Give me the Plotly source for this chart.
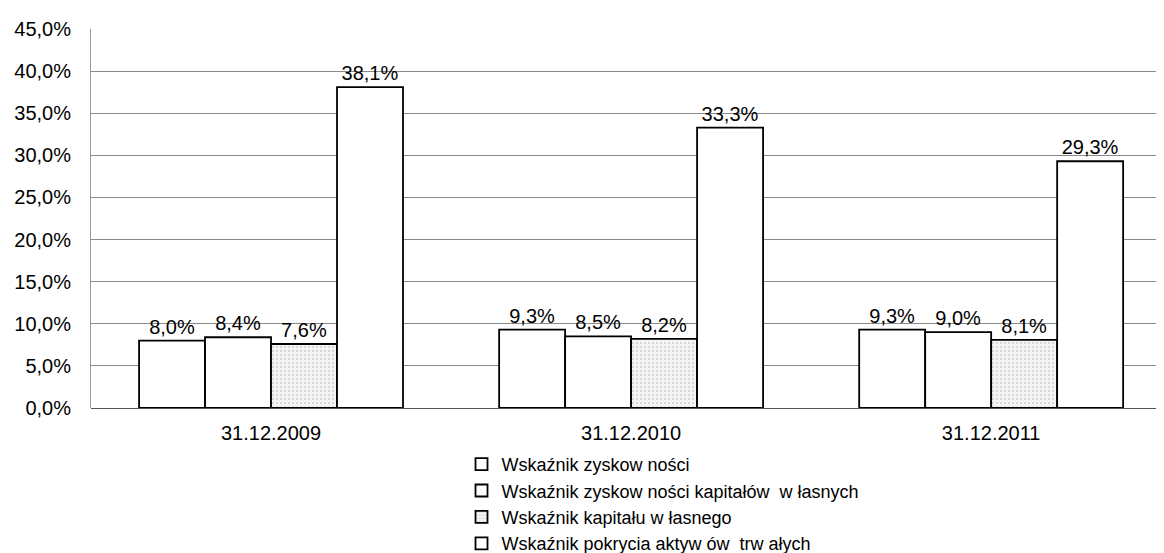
import plotly.graph_objects as go

categories = ["31.12.2009", "31.12.2010", "31.12.2011"]
series_names = [
    "Wskaźnik zyskow ności",
    "Wskaźnik zyskow ności kapitałów  w łasnych",
    "Wskaźnik kapitału w łasnego",
    "Wskaźnik pokrycia aktyw ów  trw ałych",
]
zyskownosc = [8.0, 9.3, 9.3]
zyskownosc_kw = [8.4, 8.5, 9.0]
kapital_wl = [7.6, 8.2, 8.1]
pokrycie = [38.1, 33.3, 29.3]
y_ticks = [0, 5, 10, 15, 20, 25, 30, 35, 40, 45]

values = [zyskownosc, zyskownosc_kw, kapital_wl, pokrycie]

fig = go.Figure()
for i, (name, vals) in enumerate(zip(series_names, values)):
    if i == 2:
        marker = dict(color="white", line=dict(color="black", width=1.8),
                      pattern=dict(shape=".", fgcolor="#a8a8a8", bgcolor="#f4f4f4",
                                   size=4, solidity=0.2))
    else:
        marker = dict(color="white", line=dict(color="black", width=1.8))
    fig.add_trace(go.Bar(
        x=categories, y=vals, name=name, marker=marker,
        text=[f"{v:.1f}%".replace(".", ",") for v in vals],
        textposition="outside", cliponaxis=False,
        textfont=dict(size=20, color="black"),
    ))

fig.update_layout(
    width=1156, height=545,
    margin=dict(l=83, r=0, t=21, b=145, autoexpand=False),
    paper_bgcolor="white", plot_bgcolor="white",
    font=dict(family="Liberation Sans, Arial, sans-serif", size=20, color="black"),
    separators=",.",
    barmode="group", bargap=0.267, bargroupgap=0,
    showlegend=True,
    legend=dict(x=0.3453, y=-0.1, xanchor="left", yanchor="top",
                orientation="v", traceorder="normal",
                font=dict(size=18, color="black"), tracegroupgap=0,
                bgcolor="rgba(0,0,0,0)"),
)
fig.update_xaxes(range=[-0.5, 2.48], showgrid=False, showline=False, automargin=False,
                 ticks="", ticklabelstandoff=11, tickfont=dict(size=20))
fig.update_yaxes(range=[0, 45], tickvals=y_ticks, automargin=False,
                 ticktext=[f"{t:.1f}%".replace(".", ",") for t in y_ticks],
                 showgrid=True, gridcolor="#8a8a8a", gridwidth=1,
                 showline=True, linecolor="#9a9a9a", linewidth=1,
                 zeroline=True, zerolinecolor="#555555", zerolinewidth=1,
                 ticks="", ticklabelstandoff=15, tickfont=dict(size=20))

fig.write_html("out.html")
